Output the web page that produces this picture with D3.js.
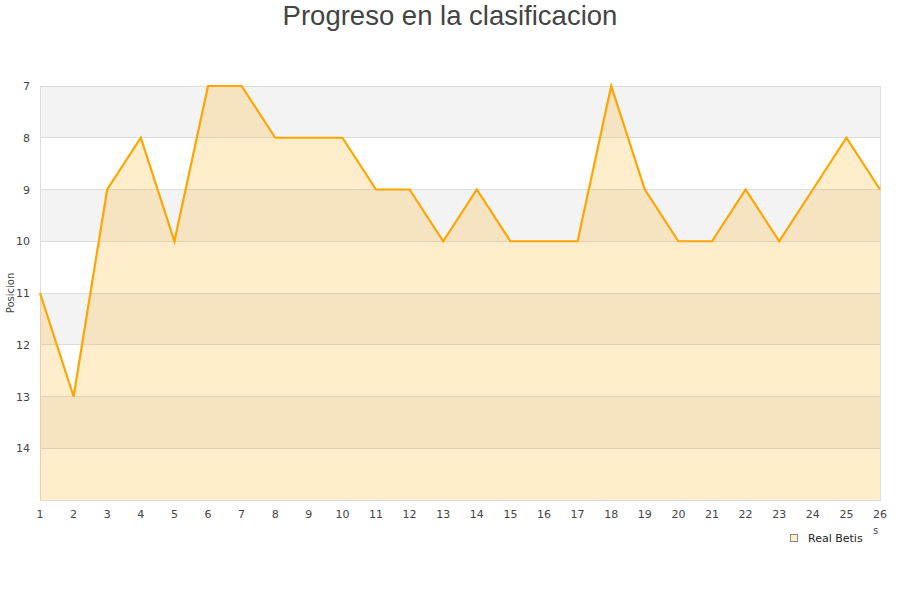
<!DOCTYPE html>
<html><head><meta charset="utf-8">
<script src="https://cdn.jsdelivr.net/npm/d3@7"></script>
<style>body{margin:0;background:#fff}</style>
</head><body>
<svg id="c" width="900" height="600"></svg>
<script>
const jornadas = [1,2,3,4,5,6,7,8,9,10,11,12,13,14,15,16,17,18,19,20,21,22,23,24,25,26];
const posicion = [11,13,9,8,10,7,7,8,8,8,9,9,10,9,10,10,10,7,9,10,10,9,10,9,8,9];
const yTicks = [7,8,9,10,11,12,13,14];
const seriesName = "Real Betis";
const title = "Progreso en la clasificacion";
const xTitleVisible = "s"; // only the end of the x-axis title shows past the legend

const svg = d3.select("#c");
const L=40,R=880,T=86,B=500;
const x = d3.scaleLinear().domain([1,26]).range([L,R]);
const y = d3.scaleLinear().domain([7,15]).range([T,B]);

// bands
const bands = [7,9,11,13];
svg.selectAll("rect.band").data(bands).enter().append("rect")
  .attr("x",L).attr("width",R-L).attr("y",d=>y(d)).attr("height",d=>y(d+1)-y(d))
  .attr("fill","#f3f3f3");
// grid
svg.selectAll("line.grid").data(yTicks.concat([15])).enter().append("line")
  .attr("x1",L).attr("x2",R).attr("y1",d=>y(d)).attr("y2",d=>y(d))
  .attr("stroke","#dddddd").attr("stroke-width",1).attr("shape-rendering","crispEdges");
svg.append("rect").attr("x",L).attr("y",T).attr("width",R-L).attr("height",B-T)
  .attr("fill","none").attr("stroke","#dddddd").attr("shape-rendering","crispEdges");

const pts = jornadas.map((j,i)=>[j,posicion[i]]);
svg.append("path").datum(pts)
  .attr("d",d3.area().x(d=>x(d[0])).y0(y(15)).y1(d=>y(d[1])))
  .attr("fill","rgba(255,165,0,0.2)");
svg.append("path").datum(pts)
  .attr("d",d3.line().x(d=>x(d[0])).y(d=>y(d[1])))
  .attr("fill","none").attr("stroke","#ffa500").attr("stroke-width",2.2).attr("stroke-linejoin","miter");

// y labels
svg.selectAll("text.yl").data(yTicks).enter().append("text")
  .attr("x",30).attr("y",d=>y(d)+4).attr("text-anchor","end")
  .attr("font-family","DejaVu Sans").attr("font-size",11).attr("fill","#444")
  .text(d=>d);
// x labels
svg.selectAll("text.xl").data(jornadas).enter().append("text")
  .attr("x",d=>x(d)).attr("y",518).attr("text-anchor","middle")
  .attr("font-family","DejaVu Sans").attr("font-size",11).attr("fill","#444")
  .text(d=>d);

svg.append("text").attr("transform","translate(14,293) rotate(-90)")
  .attr("text-anchor","middle").attr("font-family","DejaVu Sans").attr("font-size",10).attr("fill","#444")
  .text("Posicion");

svg.append("text").attr("x",873).attr("y",534)
  .attr("font-family","DejaVu Sans").attr("font-size",10).attr("fill","#444").text(xTitleVisible);

// legend
svg.append("rect").attr("x",790.5).attr("y",534.5).attr("width",7).attr("height",7)
  .attr("fill","#ffeecc").attr("stroke","#888");
svg.append("text").attr("x",808).attr("y",542).attr("font-family","DejaVu Sans").attr("font-size",11)
  .attr("fill","#222").text(seriesName);

svg.append("text").attr("x",450).attr("y",25).attr("text-anchor","middle")
  .attr("font-family","Liberation Sans, Arial").attr("font-size",27.5).attr("fill","#444").text(title);
</script>
</body></html>
